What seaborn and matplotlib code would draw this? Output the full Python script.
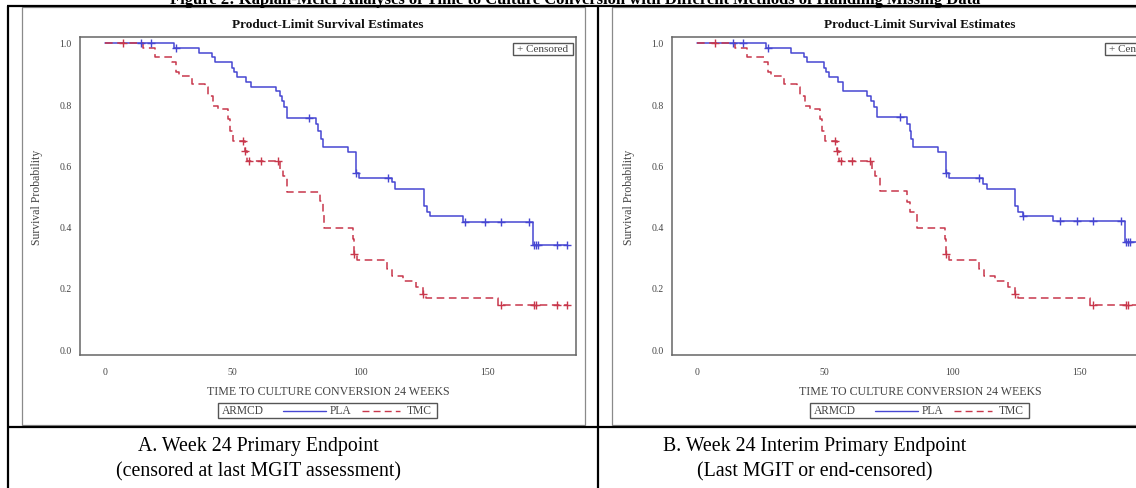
import numpy as np
import pandas as pd
import matplotlib
matplotlib.use("Agg")
import matplotlib.pyplot as plt
import seaborn as sns
from matplotlib.patches import Rectangle
from matplotlib.lines import Line2D

sns.set_theme(style="white")
plt.rcParams['font.family'] = ['Liberation Serif', 'DejaVu Serif']

# ---------------- data ----------------
arms = ["PLA", "TMC"]
x_ticks = [0, 50, 100, 150]
y_ticks = [0.0, 0.2, 0.4, 0.6, 0.8, 1.0]

# Panel A - PLA (event time, survival after event)
a_pla_t = [0, 27.0, 36.9, 41.8, 43.1, 49.6, 50.5, 51.6, 55.2, 57.0, 67.0, 68.5, 69.5, 70.3, 71.2,
           82.6, 83.6, 84.6, 85.3, 95.3, 98.3, 99.5, 112.5, 113.6, 124.9, 126.0, 127.3, 140.1, 167.5]
a_pla_s = [1.0, 0.983, 0.967, 0.953, 0.937, 0.917, 0.904, 0.888, 0.872, 0.855, 0.844, 0.828, 0.811, 0.790, 0.754,
           0.735, 0.713, 0.686, 0.659, 0.643, 0.575, 0.558, 0.545, 0.523, 0.468, 0.447, 0.436, 0.414, 0.341]
a_pla_cens = [14, 18, 28, 80, 98.3, 111, 141, 148.8, 155, 166, 168, 168.8, 169.7, 177, 181]
a_pla_end = 181

# Panel A - TMC
a_tmc_t = [0, 15.0, 19.6, 26.1, 28.0, 29.0, 34.0, 39.2, 40.5, 42.4, 44.4, 48.0, 49.0, 50.3, 54.8, 55.7,
           68.5, 69.8, 71.2, 84.2, 85.3, 85.9, 97.0, 97.5, 98.8, 110.6, 112.3, 116.8, 122.0, 124.7, 125.6, 154.0]
a_tmc_s = [1.0, 0.983, 0.953, 0.937, 0.904, 0.893, 0.866, 0.855, 0.828, 0.795, 0.784, 0.752, 0.713, 0.681, 0.648, 0.615,
           0.588, 0.566, 0.514, 0.485, 0.447, 0.397, 0.359, 0.310, 0.292, 0.261, 0.240, 0.223, 0.201, 0.180, 0.166, 0.144]
a_tmc_cens = [7, 54.2, 55.0, 56.3, 61.2, 67.9, 97.5, 124.7, 155, 168, 168.8, 177, 181]
a_tmc_end = 181

# Panel B - PLA
b_pla_t = [0, 27.0, 36.9, 41.8, 43.1, 49.6, 50.5, 51.6, 55.2, 57.0, 66.5, 68.0, 69.3, 70.6,
           82.4, 83.4, 84.0, 84.5, 94.5, 97.5, 98.7, 112.0, 113.5, 124.6, 125.8, 127.6, 139.6, 167.6]
b_pla_s = [1.0, 0.983, 0.967, 0.953, 0.937, 0.917, 0.904, 0.888, 0.872, 0.843, 0.828, 0.811, 0.790, 0.757,
           0.735, 0.713, 0.686, 0.659, 0.643, 0.575, 0.558, 0.540, 0.523, 0.468, 0.447, 0.436, 0.419, 0.350]
b_pla_cens = [14, 18, 28, 79.5, 97.5, 110.6, 127.6, 142, 148.7, 155, 166, 168, 168.8, 169.7, 177, 181]
b_pla_end = 181

# Panel B - TMC
b_tmc_t = [0, 15.0, 19.6, 26.1, 28.0, 29.0, 34.0, 39.2, 40.5, 42.4, 44.4, 48.0, 49.0, 50.3, 54.8, 55.7,
           68.5, 69.8, 71.8, 82.4, 83.4, 86.0, 97.0, 97.5, 98.8, 110.6, 112.3, 116.8, 122.0, 124.7, 125.6, 154.0]
b_tmc_s = [1.0, 0.983, 0.953, 0.937, 0.904, 0.893, 0.866, 0.855, 0.828, 0.795, 0.784, 0.752, 0.713, 0.681, 0.648, 0.615,
           0.588, 0.566, 0.517, 0.480, 0.447, 0.397, 0.359, 0.310, 0.292, 0.261, 0.240, 0.223, 0.201, 0.180, 0.166, 0.144]
b_tmc_cens = [7, 54.2, 55.0, 56.3, 60.6, 67.8, 97.5, 124.7, 155, 168, 168.8, 177, 181]
b_tmc_end = 181

page_title = ("Figure 2: Kaplan-Meier Analyses of Time to Culture Conversion with "
              "Different Methods of Handling Missing Data")
plot_title = "Product-Limit Survival Estimates"
x_label = "TIME TO CULTURE CONVERSION 24 WEEKS"
y_label = "Survival Probability"
captions = [["A. Week 24 Primary Endpoint", "(censored at last MGIT assessment)"],
            ["B. Week 24 Interim Primary Endpoint", "(Last MGIT or end-censored)"]]

# ---------------- style ----------------
W, H = 1136, 489
BLUE = "#4646d2"
RED = "#c8374b"
GRAY = "#555555"
DASH = (0, (5, 3))

fig = plt.figure(figsize=(W / 100, H / 100), dpi=100)
fig.patch.set_facecolor("white")


def km_at(ts, ss, t):
    ts = np.asarray(ts)
    ss = np.asarray(ss)
    idx = np.searchsorted(ts, t, side="right") - 1
    return ss[idx]


def step_frame(ts, ss, t_end):
    return pd.DataFrame({"time": list(ts) + [t_end], "surv": list(ss) + [ss[-1]]})


# panel geometry in pixels (left panel), right panel shifted
AX_L, AX_R, AX_T, AX_B = 80, 576, 38, 356
OFFSET = 592


def px_to_axes(x, y):
    return (x - AX_L) / (AX_R - AX_L), (AX_B - y) / (AX_B - AX_T)


def draw_panel(ax, pla_t, pla_s, pla_c, pla_end, tmc_t, tmc_s, tmc_c, tmc_end):
    d_pla = step_frame(pla_t, pla_s, pla_end)
    d_tmc = step_frame(tmc_t, tmc_s, tmc_end)
    sns.lineplot(data=d_pla, x="time", y="surv", ax=ax, color=BLUE, lw=1.1,
                 drawstyle="steps-post", estimator=None, sort=False, legend=False, zorder=2)
    sns.lineplot(data=d_tmc, x="time", y="surv", ax=ax, color=RED, lw=1.1, linestyle=DASH,
                 drawstyle="steps-post", estimator=None, sort=False, legend=False, zorder=3)
    sns.scatterplot(x=pla_c, y=km_at(pla_t, pla_s, pla_c), ax=ax, marker="+", s=30,
                    color=BLUE, linewidth=1.0, legend=False, zorder=4)
    sns.scatterplot(x=tmc_c, y=km_at(tmc_t, tmc_s, tmc_c), ax=ax, marker="+", s=30,
                    color=RED, linewidth=1.0, legend=False, zorder=4)

    ax.set_xlim(-9.8, 184.5)
    ax.set_ylim(-0.0196, 1.0196)
    ax.set_xticks(x_ticks)
    ax.set_xticklabels([str(v) for v in x_ticks])
    ax.set_yticks(y_ticks)
    ax.set_yticklabels([f"{v:.1f}" for v in y_ticks])
    for sp in ax.spines.values():
        sp.set_visible(True)
        sp.set_color("#666666")
        sp.set_linewidth(1.1)
    ax.tick_params(axis="both", direction="out", length=4, width=0.9, colors=GRAY,
                   labelsize=7, labelcolor="#444444")
    ax.tick_params(axis="x", pad=4.5)
    ax.tick_params(axis="y", pad=2)
    ax.grid(False)
    ax.set_facecolor("white")

    ax.set_title(plot_title, fontsize=9.5, fontweight="bold", y=1.041, pad=0, va="center",
                 color="#111111")
    ax.set_xlabel(x_label, fontsize=8.6, color="#444444", va="center")
    ax.xaxis.set_label_coords(0.5, px_to_axes(0, 392)[1])
    ax.set_ylabel(y_label, fontsize=8.5, color="#444444", va="center")
    ax.yaxis.set_label_coords(px_to_axes(37, 0)[0], 0.5)

    # "+ Censored" inset legend
    bx0, by0 = px_to_axes(513, 56)
    bx1, by1 = px_to_axes(573, 44)
    ax.add_patch(Rectangle((bx0, by0), bx1 - bx0, by1 - by0, transform=ax.transAxes,
                           fill=True, fc="white", ec="#555555", lw=1.0, zorder=5, clip_on=False))
    tx, ty = px_to_axes(543, 50)
    ax.text(tx, ty, "+ Censored", transform=ax.transAxes, ha="center", va="center",
            fontsize=8, color="#444444", zorder=6, clip_on=False)

    # bottom legend (ARMCD)
    lx0, ly0 = px_to_axes(218, 419)
    lx1, ly1 = px_to_axes(437, 404)
    ax.add_patch(Rectangle((lx0, ly0), lx1 - lx0, ly1 - ly0, transform=ax.transAxes,
                           fill=False, ec="#555555", lw=1.0, clip_on=False))
    yc = px_to_axes(0, 411.5)[1]
    ax.text(px_to_axes(222, 0)[0], yc, "ARMCD", transform=ax.transAxes, ha="left", va="center",
            fontsize=8.3, color="#444444", clip_on=False)
    ax.add_line(Line2D([px_to_axes(283, 0)[0], px_to_axes(326, 0)[0]], [yc, yc],
                       transform=ax.transAxes, color=BLUE, lw=1.0, clip_on=False))
    ax.text(px_to_axes(330, 0)[0], yc, "PLA", transform=ax.transAxes, ha="left", va="center",
            fontsize=8.3, color="#444444", clip_on=False)
    ax.add_line(Line2D([px_to_axes(362, 0)[0], px_to_axes(400, 0)[0]], [yc, yc],
                       transform=ax.transAxes, color=RED, lw=1.0, linestyle=DASH, clip_on=False))
    ax.text(px_to_axes(407, 0)[0], yc, "TMC", transform=ax.transAxes, ha="left", va="center",
            fontsize=8.3, color="#444444", clip_on=False)


def add_axes_px(x0, y0, x1, y1):
    return fig.add_axes([x0 / W, 1 - y1 / H, (x1 - x0) / W, (y1 - y0) / H])


# overlay for table / frames / captions (pixel coordinates)
ov = fig.add_axes([0, 0, 1, 1], zorder=0)
ov.set_xlim(0, W)
ov.set_ylim(H, 0)
ov.axis("off")
ov.patch.set_visible(False)

# picture frames inside the cells
ov.add_patch(Rectangle((22, 8), 563, 418, fill=False, ec="#8a8a8a", lw=0.9))
ov.add_patch(Rectangle((612, 8), 600, 418, fill=False, ec="#8a8a8a", lw=0.9))
# table lines
ov.plot([7, W], [7, 7], color="black", lw=1.6, solid_capstyle="butt")
ov.plot([8, 8], [7, H], color="black", lw=1.6, solid_capstyle="butt")
ov.plot([598, 598], [7, H], color="black", lw=1.6, solid_capstyle="butt")
ov.plot([8, W], [428, 428], color="black", lw=1.6, solid_capstyle="butt")

# clipped page title (only its lower part is visible)
ov.text(575, 3.5, page_title, ha="center", va="baseline", fontsize=12, fontweight="bold",
        color="black")

# captions
for cx, lines in zip([258, 815], captions):
    ov.text(cx, 447, lines[0], ha="center", va="center", fontsize=14.3, color="black")
    ov.text(cx, 472, lines[1], ha="center", va="center", fontsize=14.3, color="black")

axA = add_axes_px(AX_L, AX_T, AX_R, AX_B)
draw_panel(axA, a_pla_t, a_pla_s, a_pla_cens, a_pla_end, a_tmc_t, a_tmc_s, a_tmc_cens, a_tmc_end)
axB = add_axes_px(AX_L + OFFSET, AX_T, AX_R + OFFSET, AX_B)
draw_panel(axB, b_pla_t, b_pla_s, b_pla_cens, b_pla_end, b_tmc_t, b_tmc_s, b_tmc_cens, b_tmc_end)

fig.savefig("out.png", dpi=100, facecolor="white")
